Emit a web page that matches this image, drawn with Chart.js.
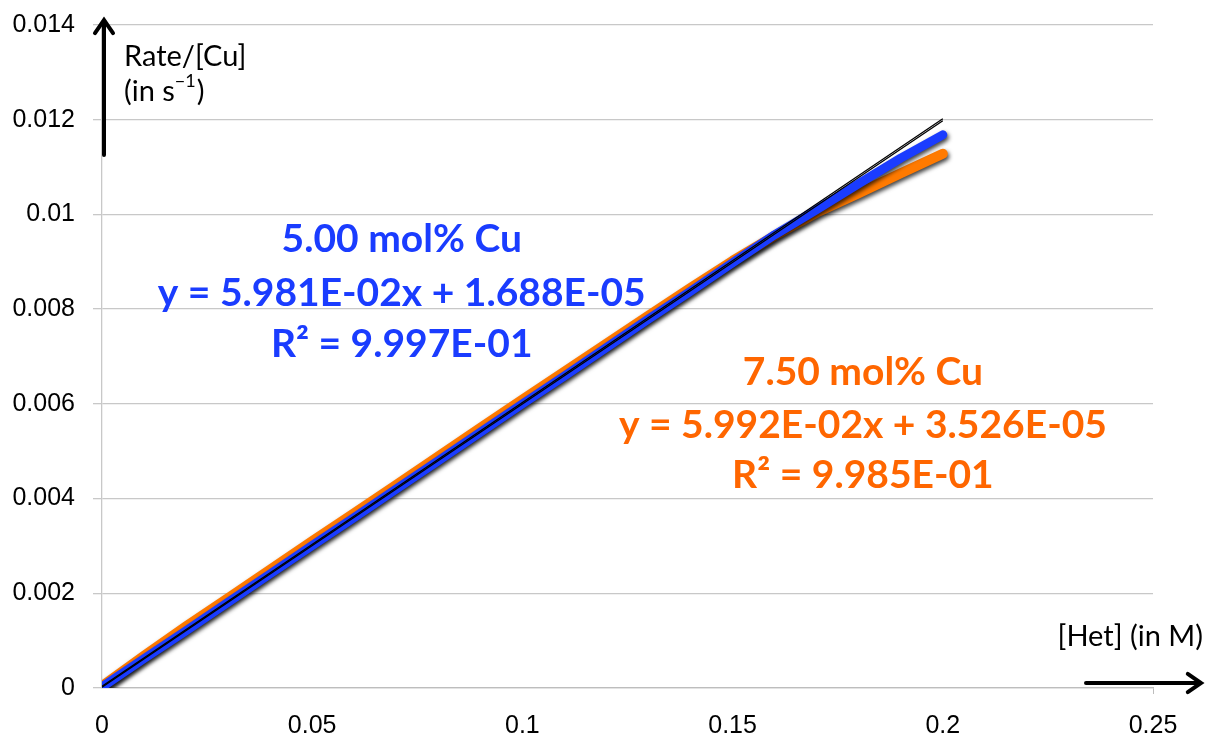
<!DOCTYPE html>
<html>
<head>
<meta charset="utf-8">
<script src="https://cdn.jsdelivr.net/npm/chart.js@4.4.1/dist/chart.umd.min.js"></script>
<style>
  html, body { margin: 0; padding: 0; background: #fff; }
  #wrap { width: 1208px; height: 741px; }
</style>
</head>
<body>
<div id="wrap"><canvas id="rateChart" width="1208" height="741"></canvas></div>
<script>
// [Het] in M
const hetConc = [0, 0.01, 0.02, 0.03, 0.04, 0.05, 0.06, 0.07, 0.08, 0.09, 0.10,
                 0.11, 0.12, 0.13, 0.14, 0.15, 0.16, 0.17, 0.18, 0.19, 0.20];

// Rate/[Cu] in s^-1
const rate500 = [0.00002, 0.00062, 0.00121, 0.00181, 0.00241, 0.00301, 0.00360, 0.00420,
                 0.00480, 0.00540, 0.00600, 0.00659, 0.00719, 0.00779, 0.00838, 0.00898,
                 0.00957, 0.01010, 0.01065, 0.01119, 0.01168];
const rate750 = [0.00004, 0.00068, 0.00130, 0.00190, 0.00250, 0.00310, 0.00369, 0.00429,
                 0.00489, 0.00549, 0.00609, 0.00668, 0.00727, 0.00786, 0.00845, 0.00902,
                 0.00955, 0.01004, 0.01045, 0.01087, 0.01128];

// linear fits (slope, intercept) and R^2
const fitSlopes     = [5.981e-2, 5.992e-2];
const fitIntercepts = [1.688e-5, 3.526e-5];
const fitR2         = [9.997e-1, 9.985e-1];
const fitRange      = [0, 0.2];

const seriesNames  = ['5.00 mol% Cu', '7.50 mol% Cu'];
const seriesColors = ['#1a3cff', '#ff7a00'];
const labelColors  = ['#1a3cff', '#ff6600'];

const xTicks = [0, 0.05, 0.1, 0.15, 0.2, 0.25];
const yTicks = [0, 0.002, 0.004, 0.006, 0.008, 0.01, 0.012, 0.014];

const toPts = (xs, ys) => xs.map((x, i) => ({ x, y: ys[i] }));
const fitPts = i => fitRange.map(x => ({ x, y: fitSlopes[i] * x + fitIntercepts[i] }));

const fmtE = v => {
  const [m, e] = v.toExponential(3).split('e');
  const n = parseInt(e, 10);
  return m + 'E' + (n < 0 ? '-' : '+') + String(Math.abs(n)).padStart(2, '0');
};

// soft dark shadow under the thick data lines
const shadowPlugin = {
  id: 'lineShadow',
  beforeDatasetDraw(chart, args) {
    const ds = chart.data.datasets[args.index];
    if (!ds.shadow) return;
    const c = chart.ctx;
    c.save();
    c.shadowColor = 'rgba(0,0,0,0.75)';
    c.shadowBlur = 4;
    c.shadowOffsetX = 1.5;
    c.shadowOffsetY = 2.5;
  },
  afterDatasetDraw(chart, args) {
    if (chart.data.datasets[args.index].shadow) chart.ctx.restore();
  }
};

function arrow(c, x1, y1, x2, y2) {
  const a = Math.atan2(y2 - y1, x2 - x1), h = 16;
  c.beginPath();
  c.moveTo(x1, y1); c.lineTo(x2, y2);
  c.moveTo(x2 - h * Math.cos(a - 0.6), y2 - h * Math.sin(a - 0.6));
  c.lineTo(x2, y2);
  c.lineTo(x2 - h * Math.cos(a + 0.6), y2 - h * Math.sin(a + 0.6));
  c.stroke();
}

// axis arrows, axis captions and the fit equations
const notesPlugin = {
  id: 'notes',
  afterDraw(chart) {
    const c = chart.ctx;
    const xs = chart.scales.x;
    c.save();
    c.strokeStyle = '#000';
    c.lineWidth = 4;
    c.lineCap = 'round';
    c.lineJoin = 'miter';
    arrow(c, 104, 155, 104, 20);
    arrow(c, 1086, 683, 1201, 683);

    c.fillStyle = '#000';
    c.font = '29px Lato';
    c.textAlign = 'left';
    c.textBaseline = 'alphabetic';
    c.fillText('Rate/[Cu]', 124, 66);
    let px = 124;
    c.fillText('(in s', px, 101);
    px += c.measureText('(in s').width;
    c.font = '18px Lato';
    c.fillText('\u22121', px, 87);
    px += c.measureText('\u22121').width + 1;
    c.font = '29px Lato';
    c.fillText(')', px, 101);
    c.textAlign = 'right';
    c.fillText('[Het] (in M)', 1203, 646);

    // equation blocks
    const blocks = [
      { cx: xs.getPixelForValue(0.0713), base: [252, 306, 357] },
      { cx: xs.getPixelForValue(0.1810), base: [385, 438, 488] }
    ];
    c.textAlign = 'center';
    c.font = 'bold 39px Lato';
    blocks.forEach((b, i) => {
      c.fillStyle = labelColors[i];
      c.fillText(seriesNames[i], b.cx, b.base[0]);
      c.fillText('y = ' + fmtE(fitSlopes[i]) + 'x + ' + fmtE(fitIntercepts[i]), b.cx, b.base[1]);
      c.fillText('R\u00b2 = ' + fmtE(fitR2[i]), b.cx, b.base[2]);
    });
    c.restore();
  }
};

// lower order is drawn on top: fits over 5.00 % over 7.50 %
new Chart(document.getElementById('rateChart'), {
  type: 'scatter',
  data: {
    datasets: [
      {
        label: 'fit ' + seriesNames[0],
        data: fitPts(0),
        showLine: true,
        borderColor: '#000',
        borderWidth: 1.3,
        pointRadius: 0,
        order: 0
      },
      {
        label: 'fit ' + seriesNames[1],
        data: fitPts(1),
        showLine: true,
        borderColor: '#000',
        borderWidth: 1.3,
        pointRadius: 0,
        order: 1
      },
      {
        label: seriesNames[0],
        data: toPts(hetConc, rate500),
        showLine: true,
        borderColor: seriesColors[0],
        backgroundColor: seriesColors[0],
        borderWidth: 9,
        borderCapStyle: 'round',
        borderJoinStyle: 'round',
        pointRadius: 0,
        shadow: true,
        order: 2
      },
      {
        label: seriesNames[1],
        data: toPts(hetConc, rate750),
        showLine: true,
        borderColor: seriesColors[1],
        backgroundColor: seriesColors[1],
        borderWidth: 10,
        borderCapStyle: 'round',
        borderJoinStyle: 'round',
        pointRadius: 0,
        shadow: true,
        order: 3
      }
    ]
  },
  options: {
    responsive: false,
    animation: false,
    layout: { padding: { top: 25, right: 55, left: 0, bottom: 0 } },
    plugins: {
      legend: { display: false },
      tooltip: { enabled: false }
    },
    scales: {
      x: {
        type: 'linear',
        min: 0,
        max: 0.25,
        afterFit: s => { s.height = 53; s.paddingLeft = 0; s.paddingRight = 0; },
        afterBuildTicks: s => { s.ticks = xTicks.map(v => ({ value: v })); },
        grid: {
          drawOnChartArea: false,
          drawTicks: true,
          tickLength: 6,
          color: ctx => ctx.tick && ctx.tick.value === 0.25 ? '#bdbdbd' : 'rgba(0,0,0,0)'
        },
        border: { display: true, color: '#bdbdbd', width: 1.3 },
        ticks: {
          padding: 17,
          color: '#000',
          font: { family: 'Liberation Sans', size: 25 },
          callback: v => String(v)
        }
      },
      y: {
        type: 'linear',
        min: 0,
        max: 0.014,
        afterFit: s => { s.width = 102; s.paddingTop = 0; s.paddingBottom = 0; },
        afterBuildTicks: s => { s.ticks = yTicks.map(v => ({ value: v })); },
        grid: {
          color: '#c8c8c8',
          lineWidth: 1.3,
          tickLength: 9
        },
        border: { display: true, color: '#c8c8c8', width: 1.3 },
        ticks: {
          padding: 18,
          color: '#000',
          font: { family: 'Liberation Sans', size: 25 },
          callback: v => String(+v.toFixed(3))
        }
      }
    }
  },
  plugins: [shadowPlugin, notesPlugin]
});
</script>
</body>
</html>
